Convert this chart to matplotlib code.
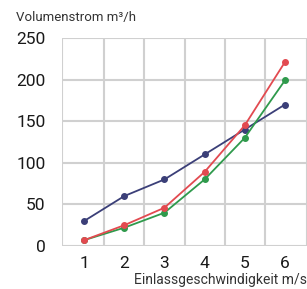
import matplotlib
matplotlib.use("Agg")
import matplotlib.pyplot as plt

speeds = [1, 2, 3, 4, 5, 6]
tick_labels = ["1", "2", "3", "4", "5", "6"]
blue_vals = [30, 60, 80, 110, 140, 170]
red_vals = [7, 25, 46, 89, 145, 221]
green_vals = [7, 22, 40, 80, 130, 199]
y_ticks = [0, 50, 100, 150, 200, 250]

plt.rcParams['font.family'] = ['Roboto', 'DejaVu Sans']

fig = plt.figure(figsize=(3.07, 2.89), dpi=100)
ax = fig.add_axes([62/307, 1-246/289, (307-62)/307, (246-38)/289])

ax.plot(speeds, blue_vals, color='#3b3f78', lw=1.3, marker='o', ms=4, zorder=3)
ax.plot(speeds, green_vals, color='#2f9a4c', lw=1.3, marker='o', ms=4, zorder=3)
ax.plot(speeds, red_vals, color='#e24a50', lw=1.3, marker='o', ms=4, zorder=4)

ax.set_xlim(0.45, 6.55)
ax.set_ylim(0, 250)
ax.set_xticks(speeds)
ax.set_xticklabels(tick_labels)
ax.set_yticks(y_ticks)
ax.grid(False)
for yv in y_ticks:
    ax.axhline(yv, color='#d0d0d0', lw=1.5, zorder=1)
for xv in [0.45, 1.5, 2.5, 3.5, 4.5, 5.5, 6.55]:
    ax.axvline(xv, color='#d0d0d0', lw=1.5, zorder=1)
for s in ax.spines.values():
    s.set_visible(False)
ax.tick_params(axis='both', which='both', length=0, labelsize=12.5, colors='#1a1a1a')
ax.tick_params(axis='x', pad=7)
ax.tick_params(axis='y', pad=12)

fig.text(16/307, 1-18/289, "Volumenstrom m³/h", fontsize=9.5, color='#333333', va='center', ha='left')
fig.text(307/307, 1-280/289, "Einlassgeschwindigkeit m/s", fontsize=10, color='#333333', va='center', ha='right')

fig.savefig("out.png", dpi=100)
